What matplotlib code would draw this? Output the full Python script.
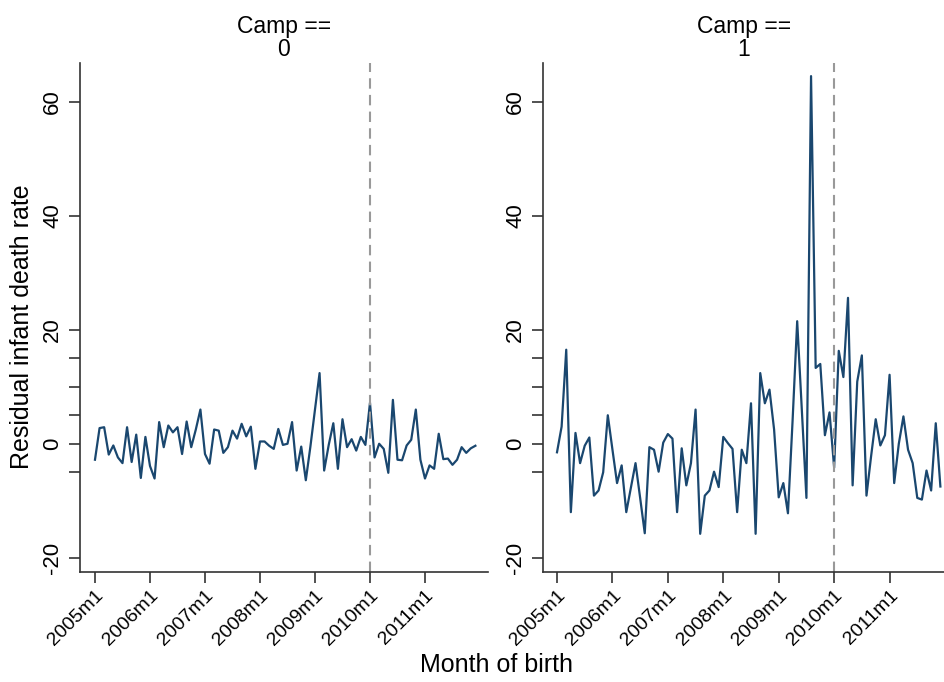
import numpy as np
import matplotlib.pyplot as plt

plt.rcParams['font.family'] = ['Liberation Sans', 'DejaVu Sans']

# residuals by month of birth, 2005m1 .. 2011m12
camp0 = [-2.8, 2.75, 2.9, -1.9, -0.3, -2.4, -3.4, 2.9, -3.2, 1.6, -6.0, 1.2,
         -3.9, -6.1, 3.8, -0.6, 3.2, 2.0, 2.9, -1.8, 3.9, -0.6, 2.5, 6.0,
         -1.8, -3.5, 2.5, 2.3, -1.6, -0.6, 2.3, 0.9, 3.5, 1.3, 3.0, -4.4,
         0.4, 0.4, -0.35, -0.9, 2.6, -0.2, 0.0, 3.8, -4.7, -0.5, -6.4, -0.5,
         6.0, 12.4, -4.7, -0.2, 3.6, -4.4, 4.3, -0.6, 0.8, -1.2, 1.2, -0.2,
         7.2, -2.4, 0.0, -0.9, -5.1, 7.7, -2.8, -2.9, -0.3, 0.7, 6.0, -2.8,
         -6.1, -3.8, -4.4, 1.75, -2.7, -2.6, -3.7, -2.8, -0.6, -1.6, -0.8, -0.35]
camp1 = [-1.5, 3.0, 16.5, -12.0, 1.9, -3.4, -0.35, 1.1, -9.1, -8.2, -5.0, 5.0,
         -1.0, -6.9, -3.8, -12.0, -7.7, -3.4, -9.5, -15.7, -0.6, -1.05, -4.9, 0.2,
         1.7, 0.9, -12.0, -0.8, -7.3, -3.4, 6.0, -15.8, -9.1, -8.2, -4.9, -7.6,
         1.2, 0.1, -0.9, -12.0, -1.05, -3.4, 7.1, -15.8, 12.4, 7.1, 9.5, 2.5,
         -9.4, -6.9, -12.2, 4.0, 21.5, 6.0, -9.5, 64.5, 13.3, 14.0, 1.5, 5.5,
         -4.2, 16.3, 11.7, 25.6, -7.3, 10.9, 15.5, -9.1, -2.2, 4.3, -0.3, 1.5,
         12.1, -6.9, 0.0, 4.8, -1.05, -3.4, -9.5, -9.8, -4.7, -8.2, 3.6, -7.5]

months = np.arange(len(camp0))
year_ticks = [0, 12, 24, 36, 48, 60, 72]
year_labels = ['2005m1', '2006m1', '2007m1', '2008m1', '2009m1', '2010m1', '2011m1']
y_major = [-20, 0, 20, 40, 60]
y_minor = [-5, 5, 10, 15]
cutoff = 60  # 2010m1

fig = plt.figure(figsize=(9.45, 6.82), dpi=100)
W, H = 945, 682
boxes = [(80, 488, -3.27, 85.75), (543, 945, -3.03, 84.0)]

for k, (vals, (x0, x1, lo, hi)) in enumerate(zip([camp0, camp1], boxes)):
    ax = fig.add_axes([x0 / W, 1 - 572 / H, (x1 - x0) / W, (572 - 63) / H])
    ax.plot(months, vals, color='#1a476f', lw=1.6)
    ax.axvline(cutoff, color='#999999', lw=1.5, ls=(0, (5, 3)))
    ax.set_xlim(lo, hi)
    ax.set_ylim(-22.5, 66.8)
    ax.set_xticks(year_ticks)
    ax.set_xticklabels(year_labels, rotation=45, ha='right',
                       rotation_mode='anchor', fontsize=14)
    ax.set_yticks(y_major)
    ax.set_yticklabels([str(v) for v in y_major], rotation=90, va='center',
                       fontsize=16)
    ax.set_yticks(y_minor, minor=True)
    ax.tick_params(which='both', direction='out', length=8, width=1.2,
                   color='#333333')
    ax.tick_params(axis='y', pad=4)
    ax.tick_params(axis='x', pad=3)
    for s in ['top', 'right']:
        ax.spines[s].set_visible(False)
    for s in ['left', 'bottom']:
        ax.spines[s].set_color('#333333')
        ax.spines[s].set_linewidth(1.2)
    ax.set_title('Camp ==\n' + str(k), fontsize=16.5, linespacing=1.0, pad=5)

fig.text(497 / W, 1 - 665 / H, 'Month of birth', ha='center', va='center',
         fontsize=18)
fig.text(22 / W, 1 - 327 / H, 'Residual infant death rate', ha='center',
         va='center', rotation=90, fontsize=18)

plt.savefig('out.png', dpi=100)
